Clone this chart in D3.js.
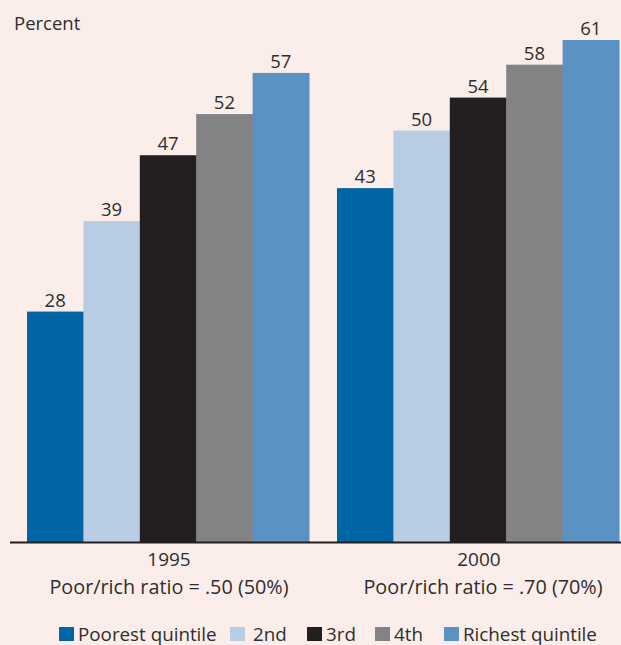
<!DOCTYPE html>
<html><head><meta charset="utf-8">
<script src="https://cdn.jsdelivr.net/npm/d3@7"></script>
<style>
html,body{margin:0;padding:0;background:#fbede9;}
svg{display:block;}
text{font-family:"Open Sans","Noto Sans",sans-serif;fill:#2e2e2e;}
</style></head>
<body><svg id="c" width="621" height="645"></svg>
<script>
const years = ["1995", "2000"];
const ratioLabels = ["Poor/rich ratio = .50 (50%)", "Poor/rich ratio = .70 (70%)"];
const quintiles = ["Poorest quintile", "2nd", "3rd", "4th", "Richest quintile"];
const values1995 = [28, 39, 47, 52, 57];
const values2000 = [43, 50, 54, 58, 61];
const colors = ["#0065a4", "#b8cce4", "#231f20", "#838386", "#5b92c4"];
const yAxisLabel = "Percent";

const series = [values1995, values2000];
const svg = d3.select("#c");
const W = 621, H = 645;
svg.append("rect").attr("width", W).attr("height", H).attr("fill", "#fbede9");

const baseY = 542;
const x0 = d3.scaleBand().domain(years).range([27, 619]).paddingInner(0.0903).paddingOuter(0);
const x1 = d3.scaleBand().domain(quintiles).range([0, x0.bandwidth()]).padding(0);
const y = d3.scaleLinear().domain([0, 61]).range([baseY, 40]);
const color = d3.scaleOrdinal().domain(quintiles).range(colors);

const groups = svg.selectAll("g.grp").data(years).join("g")
  .attr("class", "grp")
  .attr("transform", d => `translate(${x0(d)},0)`);

groups.each(function(yr, gi) {
  const g = d3.select(this);
  const data = quintiles.map((q, i) => ({q, v: series[gi][i]}));
  g.selectAll("rect").data(data).join("rect")
    .attr("x", d => x1(d.q))
    .attr("y", d => y(d.v))
    .attr("width", x1.bandwidth() + 0.5)
    .attr("height", d => baseY - y(d.v))
    .attr("fill", d => color(d.q));
  g.selectAll("text.val").data(data).join("text")
    .attr("class", "val")
    .attr("x", d => x1(d.q) + x1.bandwidth() / 2)
    .attr("y", d => y(d.v) - 5)
    .attr("text-anchor", "middle")
    .style("font-size", "18.5px")
    .text(d => d.v);
});

// baseline axis
svg.append("line").attr("x1", 10).attr("x2", W).attr("y1", baseY + 0.5).attr("y2", baseY + 0.5)
  .attr("stroke", "#231f20").attr("stroke-width", 2.2);

// category labels
years.forEach((yr, i) => {
  const cx = x0(yr) + x0.bandwidth() / 2 + 1;
  svg.append("text").attr("x", cx).attr("y", 566).attr("text-anchor", "middle")
    .style("font-size", "19px").text(yr);
  svg.append("text").attr("x", cx + (i ? 4 : 0)).attr("y", 593.5).attr("text-anchor", "middle")
    .style("font-size", "19.8px").text(ratioLabels[i]);
});

// y label
svg.append("text").attr("x", 14).attr("y", 30).style("font-size", "18.5px").text(yAxisLabel);

// legend
const legendX = [59, 230, 307, 375, 444];
const leg = svg.selectAll("g.leg").data(quintiles).join("g").attr("class", "leg")
  .attr("transform", (d, i) => `translate(${legendX[i]},627)`);
leg.append("rect").attr("width", 15).attr("height", 14).attr("fill", d => color(d));
leg.append("text").attr("x", (d, i) => i === 1 ? 23 : 19).attr("y", 13.5)
  .style("font-size", "18.8px").text(d => d);
</script></body></html>
